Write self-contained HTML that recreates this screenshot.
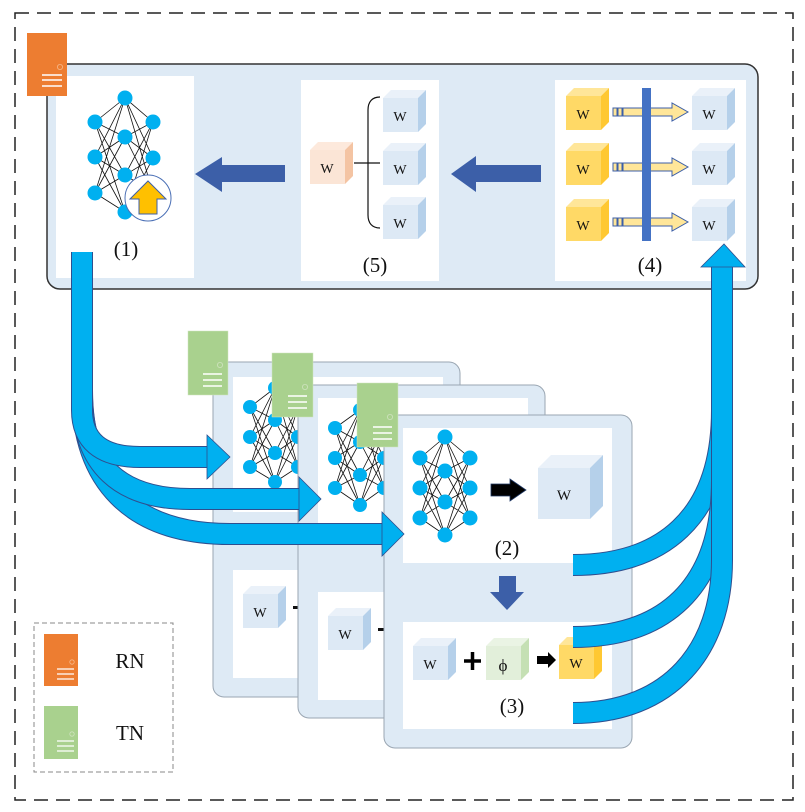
<!DOCTYPE html>
<html><head><meta charset="utf-8"><style>
html,body{margin:0;padding:0;background:#fff}
svg{display:block}
text{font-family:"Liberation Serif",serif;fill:#111}
</style></head><body>
<svg width="805" height="812" viewBox="0 0 805 812" xmlns="http://www.w3.org/2000/svg">
<!-- outer dashed -->
<rect x="15" y="13" width="778" height="787" fill="none" stroke="#222" stroke-width="1.5" stroke-dasharray="14,8"/>

<!-- top panel -->
<rect x="47" y="64" width="711" height="225" rx="13" fill="#deeaf5" stroke="#333" stroke-width="1.5"/>
<rect x="56" y="76" width="138" height="202" fill="#fff"/>
<rect x="301" y="80" width="138" height="201" fill="#fff"/>
<rect x="555" y="80" width="191" height="201" fill="#fff"/>

<!-- NN (1) -->
<path d="M95 122L125 98M95 122L125 137M95 122L125 175M95 122L125 212M95 157L125 98M95 157L125 137M95 157L125 175M95 157L125 212M95 193L125 98M95 193L125 137M95 193L125 175M95 193L125 212M153 122L125 98M153 122L125 137M153 122L125 175M153 122L125 212M153 158L125 98M153 158L125 137M153 158L125 175M153 158L125 212M153 193L125 98M153 193L125 137M153 193L125 175M153 193L125 212" stroke="#111" stroke-width="0.8" fill="none"/>
<g fill="#00b0f0">
<circle cx="95" cy="122" r="7.5"/><circle cx="95" cy="157" r="7.5"/><circle cx="95" cy="193" r="7.5"/>
<circle cx="125" cy="98" r="7.5"/><circle cx="125" cy="137" r="7.5"/><circle cx="125" cy="175" r="7.5"/><circle cx="125" cy="212" r="7.5"/>
<circle cx="153" cy="122" r="7.5"/><circle cx="153" cy="158" r="7.5"/>
</g>
<circle cx="148" cy="198" r="23" fill="#fff" stroke="#4a6fb5" stroke-width="1"/>
<polygon points="148,181 166,199 157,199 157,214 139,214 139,199 130,199" fill="#ffc000" stroke="#3c5fa8" stroke-width="1"/>
<text x="126" y="256" font-size="21" text-anchor="middle">(1)</text>

<!-- orange server -->
<rect x="27" y="33" width="40" height="63" fill="#ed7d31"/>
<circle cx="60" cy="67" r="2.6" fill="none" stroke="#f6b98c" stroke-width="0.8"/>
<path d="M42 75H62M42 80H62M42 86H62" stroke="#fff" stroke-width="1.4"/>

<!-- blue arrows top -->
<polygon points="285,165 222,165 222,157 195,174 222,192 222,182 285,182" fill="#3c5fa8"/>
<polygon points="541,165 476,165 476,156 451,174 476,192 476,182 541,182" fill="#3c5fa8"/>

<!-- panel 5 -->
<g transform="translate(310,142)"><polygon points="0,8 8,0 43,0 35,8" fill="#fde9dc"/><polygon points="35,8 43,0 43,34 35,42" fill="#f4c4a3"/><rect x="0" y="8" width="35" height="34" fill="#fbe5d6"/><text x="17" y="31" font-size="14" text-anchor="middle">W</text></g>
<path d="M354 163H368M380 97C372 97 368 102 368 110V215C368 223 372 228 380 228M368 163H380" stroke="#111" stroke-width="1.2" fill="none"/>
<g transform="translate(383,90)"><polygon points="0,8 8,0 43,0 35,8" fill="#eaf1f9"/><polygon points="35,8 43,0 43,34 35,42" fill="#b5d0ea"/><rect x="0" y="8" width="35" height="34" fill="#dde9f5"/><text x="17" y="31" font-size="14" text-anchor="middle">W</text></g>
<g transform="translate(383,143)"><polygon points="0,8 8,0 43,0 35,8" fill="#eaf1f9"/><polygon points="35,8 43,0 43,34 35,42" fill="#b5d0ea"/><rect x="0" y="8" width="35" height="34" fill="#dde9f5"/><text x="17" y="31" font-size="14" text-anchor="middle">W</text></g>
<g transform="translate(383,197)"><polygon points="0,8 8,0 43,0 35,8" fill="#eaf1f9"/><polygon points="35,8 43,0 43,34 35,42" fill="#b5d0ea"/><rect x="0" y="8" width="35" height="34" fill="#dde9f5"/><text x="17" y="31" font-size="14" text-anchor="middle">W</text></g>
<text x="375" y="272" font-size="21" text-anchor="middle">(5)</text>

<!-- panel 4 -->
<g transform="translate(566,88)"><polygon points="0,8 8,0 43,0 35,8" fill="#ffe699"/><polygon points="35,8 43,0 43,34 35,42" fill="#ffc832"/><rect x="0" y="8" width="35" height="34" fill="#ffd966"/><text x="17" y="31" font-size="14" text-anchor="middle">W</text></g>
<g transform="translate(566,143)"><polygon points="0,8 8,0 43,0 35,8" fill="#ffe699"/><polygon points="35,8 43,0 43,34 35,42" fill="#ffc832"/><rect x="0" y="8" width="35" height="34" fill="#ffd966"/><text x="17" y="31" font-size="14" text-anchor="middle">W</text></g>
<g transform="translate(566,199)"><polygon points="0,8 8,0 43,0 35,8" fill="#ffe699"/><polygon points="35,8 43,0 43,34 35,42" fill="#ffc832"/><rect x="0" y="8" width="35" height="34" fill="#ffd966"/><text x="17" y="31" font-size="14" text-anchor="middle">W</text></g>
<g fill="#ffe699" stroke="#3c5fa8" stroke-width="1">
<rect x="613" y="108" width="4" height="8"/><rect x="618" y="108" width="4" height="8"/><polygon points="623,108 672,108 672,103 688,112 672,121 672,116 623,116"/>
<rect x="613" y="163" width="4" height="8"/><rect x="618" y="163" width="4" height="8"/><polygon points="623,163 672,163 672,158 688,167 672,176 672,171 623,171"/>
<rect x="613" y="218" width="4" height="8"/><rect x="618" y="218" width="4" height="8"/><polygon points="623,218 672,218 672,213 688,222 672,231 672,226 623,226"/>
</g>
<rect x="642" y="88" width="9" height="153" fill="#4472c4"/>
<g transform="translate(692,88)"><polygon points="0,8 8,0 43,0 35,8" fill="#eaf1f9"/><polygon points="35,8 43,0 43,34 35,42" fill="#b5d0ea"/><rect x="0" y="8" width="35" height="34" fill="#dde9f5"/><text x="17" y="31" font-size="14" text-anchor="middle">W</text></g>
<g transform="translate(692,143)"><polygon points="0,8 8,0 43,0 35,8" fill="#eaf1f9"/><polygon points="35,8 43,0 43,34 35,42" fill="#b5d0ea"/><rect x="0" y="8" width="35" height="34" fill="#dde9f5"/><text x="17" y="31" font-size="14" text-anchor="middle">W</text></g>
<g transform="translate(692,199)"><polygon points="0,8 8,0 43,0 35,8" fill="#eaf1f9"/><polygon points="35,8 43,0 43,34 35,42" fill="#b5d0ea"/><rect x="0" y="8" width="35" height="34" fill="#dde9f5"/><text x="17" y="31" font-size="14" text-anchor="middle">W</text></g>
<text x="650" y="272" font-size="21" text-anchor="middle">(4)</text>

<!-- panel A -->
<rect x="213" y="362" width="247" height="335" rx="11" fill="#deeaf5" stroke="#9aa6b2" stroke-width="1"/>
<rect x="233" y="377" width="210" height="135" fill="#fff"/>
<rect x="233" y="570" width="210" height="108" fill="#fff"/>
<path d="M250 407L275 388M250 407L275 420M250 407L275 453M250 407L275 482M250 437L275 388M250 437L275 420M250 437L275 453M250 437L275 482M250 467L275 388M250 467L275 420M250 467L275 453M250 467L275 482M298 407L275 388M298 407L275 420M298 407L275 453M298 407L275 482M298 437L275 388M298 437L275 420M298 437L275 453M298 437L275 482M298 467L275 388M298 467L275 420M298 467L275 453M298 467L275 482" stroke="#111" stroke-width="0.8"/>
<g fill="#00b0f0"><circle cx="250" cy="407" r="7"/><circle cx="250" cy="437" r="7"/><circle cx="250" cy="467" r="7"/><circle cx="275" cy="388" r="7"/><circle cx="275" cy="420" r="7"/><circle cx="275" cy="453" r="7"/><circle cx="275" cy="482" r="7"/><circle cx="298" cy="407" r="7"/><circle cx="298" cy="437" r="7"/><circle cx="298" cy="467" r="7"/></g>
<g transform="translate(243,586)"><polygon points="0,8 8,0 43,0 35,8" fill="#eaf1f9"/><polygon points="35,8 43,0 43,34 35,42" fill="#b5d0ea"/><rect x="0" y="8" width="35" height="34" fill="#dde9f5"/><text x="17" y="31" font-size="14" text-anchor="middle">W</text></g>
<rect x="293" y="606" width="8" height="3" fill="#111"/>
<rect x="188" y="331" width="40" height="64" fill="#a9d18e" stroke="#d0e4c0" stroke-width="0.5"/>
<circle cx="220" cy="365" r="2.6" fill="none" stroke="#cfe3bf" stroke-width="0.8"/>
<path d="M203 374H222M203 380H222M203 386H222" stroke="#fff" stroke-width="1.4"/>

<!-- panel B -->
<rect x="298" y="385" width="247" height="333" rx="11" fill="#deeaf5" stroke="#9aa6b2" stroke-width="1"/>
<rect x="318" y="398" width="210" height="137" fill="#fff"/>
<rect x="318" y="592" width="210" height="108" fill="#fff"/>
<path d="M335 428L360 410M335 428L360 442M335 428L360 475M335 428L360 505M335 458L360 410M335 458L360 442M335 458L360 475M335 458L360 505M335 488L360 410M335 488L360 442M335 488L360 475M335 488L360 505M384 428L360 410M384 428L360 442M384 428L360 475M384 428L360 505M384 458L360 410M384 458L360 442M384 458L360 475M384 458L360 505M384 488L360 410M384 488L360 442M384 488L360 475M384 488L360 505" stroke="#111" stroke-width="0.8"/>
<g fill="#00b0f0"><circle cx="335" cy="428" r="7"/><circle cx="335" cy="458" r="7"/><circle cx="335" cy="488" r="7"/><circle cx="360" cy="410" r="7"/><circle cx="360" cy="442" r="7"/><circle cx="360" cy="475" r="7"/><circle cx="360" cy="505" r="7"/><circle cx="384" cy="428" r="7"/><circle cx="384" cy="458" r="7"/><circle cx="384" cy="488" r="7"/></g>
<g transform="translate(328,608)"><polygon points="0,8 8,0 43,0 35,8" fill="#eaf1f9"/><polygon points="35,8 43,0 43,34 35,42" fill="#b5d0ea"/><rect x="0" y="8" width="35" height="34" fill="#dde9f5"/><text x="17" y="31" font-size="14" text-anchor="middle">W</text></g>
<rect x="378" y="628" width="8" height="3" fill="#111"/>
<rect x="272" y="353" width="41" height="64" fill="#a9d18e" stroke="#d0e4c0" stroke-width="0.5"/>
<circle cx="305" cy="387" r="2.6" fill="none" stroke="#cfe3bf" stroke-width="0.8"/>
<path d="M288 396H307M288 402H307M288 408H307" stroke="#fff" stroke-width="1.4"/>

<!-- panel C -->
<rect x="384" y="415" width="248" height="333" rx="11" fill="#deeaf5" stroke="#9aa6b2" stroke-width="1"/>
<rect x="403" y="428" width="209" height="135" fill="#fff"/>
<rect x="403" y="622" width="209" height="107" fill="#fff"/>
<path d="M420 458L445 437M420 458L445 471M420 458L445 502M420 458L445 535M420 488L445 437M420 488L445 471M420 488L445 502M420 488L445 535M420 518L445 437M420 518L445 471M420 518L445 502M420 518L445 535M470 458L445 437M470 458L445 471M470 458L445 502M470 458L445 535M470 488L445 437M470 488L445 471M470 488L445 502M470 488L445 535M470 518L445 437M470 518L445 471M470 518L445 502M470 518L445 535" stroke="#111" stroke-width="0.8"/>
<g fill="#00b0f0"><circle cx="420" cy="458" r="7.5"/><circle cx="420" cy="488" r="7.5"/><circle cx="420" cy="518" r="7.5"/><circle cx="445" cy="437" r="7.5"/><circle cx="445" cy="471" r="7.5"/><circle cx="445" cy="502" r="7.5"/><circle cx="445" cy="535" r="7.5"/><circle cx="470" cy="458" r="7.5"/><circle cx="470" cy="488" r="7.5"/><circle cx="470" cy="518" r="7.5"/></g>
<polygon points="491,484 510,484 510,479 526,490 510,501 510,496 491,496" fill="#000" stroke="#1f3864" stroke-width="0.8"/>
<g transform="translate(538,455)"><polygon points="0,13 13,0 65,0 52,13" fill="#eaf1f9"/><polygon points="52,13 65,0 65,51 52,64" fill="#b5d0ea"/><rect x="0" y="13" width="52" height="51" fill="#dde9f5"/><text x="26" y="45" font-size="15" text-anchor="middle">W</text></g>
<text x="507" y="555" font-size="21" text-anchor="middle">(2)</text>
<polygon points="499,576 516,576 516,592 524,592 507,610 490,592 499,592" fill="#3c5fa8"/>
<g transform="translate(413,638)"><polygon points="0,8 8,0 43,0 35,8" fill="#eaf1f9"/><polygon points="35,8 43,0 43,34 35,42" fill="#b5d0ea"/><rect x="0" y="8" width="35" height="34" fill="#dde9f5"/><text x="17" y="31" font-size="14" text-anchor="middle">W</text></g>
<path d="M464 661H481M472.5 652V670" stroke="#000" stroke-width="3.5"/>
<g transform="translate(486,638)"><polygon points="0,8 8,0 43,0 35,8" fill="#eaf4e4"/><polygon points="35,8 43,0 43,34 35,42" fill="#c5e0b4"/><rect x="0" y="8" width="35" height="34" fill="#e2efda"/><text x="17" y="33" font-size="17" text-anchor="middle">ϕ</text></g>
<polygon points="537,656 548,656 548,652 556,660 548,668 548,664 537,664" fill="#000"/>
<g transform="translate(559,637)"><polygon points="0,8 8,0 43,0 35,8" fill="#ffe699"/><polygon points="35,8 43,0 43,34 35,42" fill="#ffc832"/><rect x="0" y="8" width="35" height="34" fill="#ffd966"/><text x="17" y="31" font-size="14" text-anchor="middle">W</text></g>
<text x="512" y="713" font-size="21" text-anchor="middle">(3)</text>
<rect x="357" y="383" width="41" height="64" fill="#a9d18e" stroke="#d0e4c0" stroke-width="0.5"/>
<circle cx="390" cy="417" r="2.6" fill="none" stroke="#cfe3bf" stroke-width="0.8"/>
<path d="M373 427H392M373 433H392M373 439H392" stroke="#fff" stroke-width="1.4"/>

<!-- left cyan arrows -->
<g fill="none" stroke-linecap="butt">
<path d="M82 390C82 480 130 534 230 534H386" stroke="#2e4f8f" stroke-width="22"/>
<path d="M82 390C82 480 130 534 230 534H386" stroke="#00b0f0" stroke-width="20"/>
<path d="M82 395C82 465 120 499 190 499H302" stroke="#2e4f8f" stroke-width="22"/>
<path d="M82 395C82 465 120 499 190 499H302" stroke="#00b0f0" stroke-width="20"/>
<path d="M82 252V410C82 440 100 457 140 457H210" stroke="#2e4f8f" stroke-width="22"/>
<path d="M82 252V410C82 440 100 457 140 457H210" stroke="#00b0f0" stroke-width="20"/>
</g>
<g fill="#00b0f0" stroke="#2e4f8f" stroke-width="0.8">
<polygon points="207,435 230,457 207,479"/>
<polygon points="299,477 321,499 299,521"/>
<polygon points="382,512 404,534 382,556"/>
</g>

<!-- right cyan arrows -->
<g fill="none">
<path d="M573 565C660 565 722 520 722 410" stroke="#2e4f8f" stroke-width="22"/>
<path d="M573 565C660 565 722 520 722 410" stroke="#00b0f0" stroke-width="20"/>
<path d="M573 637C662 637 722 590 722 480" stroke="#2e4f8f" stroke-width="22"/>
<path d="M573 637C662 637 722 590 722 480" stroke="#00b0f0" stroke-width="20"/>
<path d="M573 713C670 713 722 650 722 560V266" stroke="#2e4f8f" stroke-width="22"/>
<path d="M573 713C670 713 722 650 722 560V266" stroke="#00b0f0" stroke-width="20"/>
</g>
<polygon points="701,267 724,244 745,267" fill="#00b0f0" stroke="#2e4f8f" stroke-width="0.8"/>

<!-- legend -->
<rect x="34" y="623" width="139" height="149" fill="none" stroke="#888" stroke-width="1" stroke-dasharray="5,3"/>
<rect x="44" y="634" width="34" height="52" fill="#ed7d31"/>
<circle cx="72" cy="662" r="2.2" fill="none" stroke="#f6b98c" stroke-width="0.8"/>
<path d="M57 669H74M57 674H74M57 679H74" stroke="#fff" stroke-width="1.2"/>
<rect x="44" y="706" width="34" height="53" fill="#a9d18e"/>
<circle cx="72" cy="734" r="2.2" fill="none" stroke="#cfe3bf" stroke-width="0.8"/>
<path d="M57 741H74M57 746H74M57 751H74" stroke="#fff" stroke-width="1.2"/>
<text x="130" y="668" font-size="21" text-anchor="middle">RN</text>
<text x="130" y="740" font-size="21" text-anchor="middle">TN</text>
</svg>
</body></html>
